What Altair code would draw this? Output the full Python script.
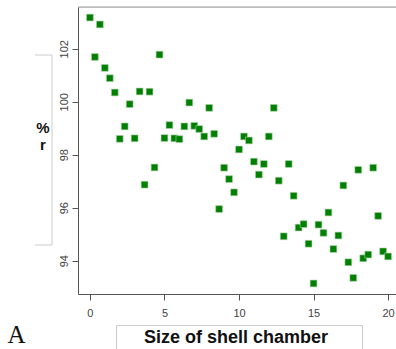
import altair as alt
import pandas as pd

# Size of shell chamber: readings taken every third of a unit from 0 to 20
chamber_step = [i / 3 for i in range(61)]

# Percentage r measured at each chamber size
pct_r = [
    103.18, 101.69, 102.92, 101.28, 100.89, 100.35, 98.60, 99.07, 99.91, 98.62,
    100.39, 96.87, 100.38, 97.52, 101.78, 98.63, 99.12, 98.62, 98.59, 99.07,
    99.97, 99.09, 98.97, 98.69, 99.77, 98.79, 95.95, 97.51, 97.08, 96.58,
    98.20, 98.69, 98.54, 97.74, 97.25, 97.65, 98.69, 99.77, 97.02, 94.92,
    97.65, 96.45, 95.25, 95.38, 94.64, 93.14, 95.36, 95.05, 95.82, 94.44,
    94.95, 96.84, 93.94, 93.35, 97.43, 94.09, 94.23, 97.51, 95.69, 94.35,
    94.16,
]

x_ticks = [0, 5, 10, 15, 20]
y_ticks = [94, 96, 98, 100, 102]

W, H = 318, 287
LEFT, TOP = 78, 7

df = pd.DataFrame({"size": chamber_step, "pct": pct_r})

x_scale = alt.Scale(domain=[-0.8, -0.8 + W * 21.6 / 322], nice=False, zero=False)
y_scale = alt.Scale(domain=[92.7416, 103.5784], nice=False, zero=False)

points = alt.Chart(df).mark_square(
    size=46, color="#008000", opacity=1, stroke="#a9cfa9", strokeWidth=0.6
).encode(
    x=alt.X(
        "size:Q",
        scale=x_scale,
        axis=alt.Axis(
            values=x_ticks, title=None, grid=False, tickSize=6,
            domainColor="#555555", tickColor="#555555",
            labelFont="Liberation Sans", labelFontSize=11,
            labelColor="#444444", labelPadding=7,
        ),
    ),
    y=alt.Y(
        "pct:Q",
        scale=y_scale,
        axis=alt.Axis(
            values=y_ticks, title=None, grid=False, tickSize=6,
            domainColor="#555555", tickColor="#555555",
            labelFont="Liberation Sans", labelFontSize=11,
            labelColor="#444444", labelAngle=270, labelAlign="center",
            labelBaseline="bottom", labelPadding=3,
        ),
    ),
)

one = pd.DataFrame({"k": [0]})

# light frame line along the top of the plot
top_line = alt.Chart(one).mark_rule(color="#999999", strokeWidth=1).encode(
    x=alt.value(0), x2=alt.value(W), y=alt.value(0)
)

# bracket beside the vertical label
bracket_v = alt.Chart(one).mark_rule(color="#cccccc", strokeWidth=1).encode(
    x=alt.value(52 - LEFT), y=alt.value(55 - TOP), y2=alt.value(245 - TOP)
)
bracket_top = alt.Chart(one).mark_rule(color="#cccccc", strokeWidth=1).encode(
    x=alt.value(35 - LEFT), x2=alt.value(52 - LEFT), y=alt.value(55 - TOP)
)
bracket_bot = alt.Chart(one).mark_rule(color="#cccccc", strokeWidth=1).encode(
    x=alt.value(35 - LEFT), x2=alt.value(52 - LEFT), y=alt.value(245 - TOP)
)

y_label = alt.Chart(pd.DataFrame({"t": ["%", "r"], "yy": [133 - TOP, 150 - TOP]})).mark_text(
    font="Liberation Sans", fontSize=15, fontWeight="bold", color="#111111",
    align="center", baseline="alphabetic",
).encode(x=alt.value(43 - LEFT), y=alt.Y("yy:Q", scale=None), text="t:N")

# box and caption under the x axis
x_box = alt.Chart(one).mark_rect(
    fill="white", fillOpacity=0, stroke="#cccccc", strokeWidth=1
).encode(
    x=alt.value(116.5 - LEFT), x2=alt.value(362.5 - LEFT),
    y=alt.value(325.5 - TOP), y2=alt.value(360 - TOP),
)
x_label = alt.Chart(pd.DataFrame({"t": ["Size of shell chamber"]})).mark_text(
    font="Liberation Sans", fontSize=18, fontWeight="bold", color="#111111",
    align="center", baseline="alphabetic",
).encode(x=alt.value(236 - LEFT), y=alt.value(343 - TOP), text="t:N")

panel_tag = alt.Chart(pd.DataFrame({"t": ["A"]})).mark_text(
    font="Liberation Serif", fontSize=25, color="#111111",
    align="center", baseline="alphabetic",
).encode(x=alt.value(16.5 - LEFT), y=alt.value(343 - TOP), text="t:N")

chart = alt.layer(
    top_line, bracket_v, bracket_top, bracket_bot, y_label,
    x_box, x_label, panel_tag, points,
).properties(
    width=W, height=H,
    autosize=alt.AutoSizeParams(type="none"),
    padding={"left": LEFT, "top": TOP, "right": 0, "bottom": 349 - TOP - H},
).configure_view(stroke=None).configure(background="white")

chart.save("out.html", embed_options={"renderer": "svg", "actions": False})
